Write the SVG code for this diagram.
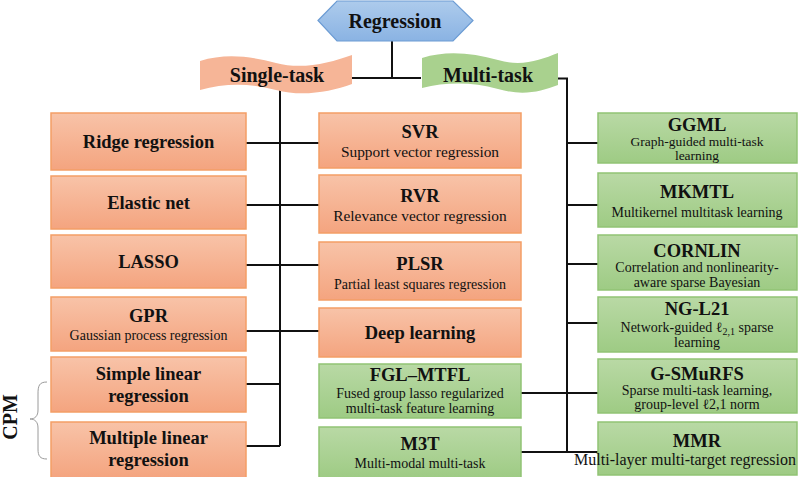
<svg xmlns="http://www.w3.org/2000/svg" width="800" height="477" viewBox="0 0 800 477">
<defs>
<linearGradient id="gOr" x1="0" y1="0" x2="0" y2="1"><stop offset="0" stop-color="#F8C3A8"/><stop offset="1" stop-color="#F4A47F"/></linearGradient>
<linearGradient id="gGr" x1="0" y1="0" x2="0" y2="1"><stop offset="0" stop-color="#B9D9A5"/><stop offset="1" stop-color="#9ECB84"/></linearGradient>
<linearGradient id="gBl" x1="0" y1="0" x2="0" y2="1"><stop offset="0" stop-color="#ADCBEC"/><stop offset="1" stop-color="#8AB3E3"/></linearGradient>
<style>
.or{fill:url(#gOr);stroke:#F49E66;stroke-width:1.5}
.gr{fill:url(#gGr);stroke:#91C374;stroke-width:1.5}
.t{font-family:"Liberation Serif","Times New Roman",serif;font-weight:bold;font-size:18.5px;fill:#111;text-anchor:middle}
.s{font-family:"Liberation Serif","Times New Roman",serif;font-size:14px;fill:#111;text-anchor:middle}
.s2{font-size:15.4px}
.h{font-family:"Liberation Serif","Times New Roman",serif;font-weight:bold;font-size:20px;fill:#111;text-anchor:middle}
.ln{stroke:#111;stroke-width:2;fill:none}
</style>
</defs>
<rect width="800" height="477" fill="#fff"/>

<g id="connectors" class="ln">
<path d="M392,41 V78 M352,78 H421 M558,78.5 H567 V452"/>
<path d="M280,90 V446"/>
<path d="M246,143 H319 M246,205 H319 M246,265 H319 M246,331 H319 M246,384 H280 M246,446 H280"/>
<path d="M567,143 H598 M567,205 H598 M567,264 H598 M567,323 H598 M521,393 H598 M521,452 H598"/>
</g>

<g id="regression">
<polygon points="318,20.5 337,1 453,1 473,20.5 453,41 337,41" fill="url(#gBl)" stroke="#6C9CD4" stroke-width="1.2"/>
<text class="h" x="395" y="28">Regression</text>
</g>
<g id="single-task">
<path d="M200,61 C225,53 250,56 276,63 C302,70 330,63 352,55 L352,84 C330,92 302,97 276,90 C250,83 225,83 200,90 Z" fill="#F6B597"/>
<text class="h" x="277" y="82">Single-task</text>
</g>
<g id="multi-task">
<path d="M422,58 C447,50 472,53 498,60 C522,67 540,60 558,53 L558,85 C540,92 522,96 498,89 C472,82 447,82 422,88 Z" fill="#A9D18E"/>
<text class="h" x="488" y="82">Multi-task</text>
</g>

<g id="ridge"><rect class="or" x="51" y="113" width="195" height="57"/><text class="t" x="148.5" y="148">Ridge regression</text></g>
<g id="elastic"><rect class="or" x="51" y="176" width="195" height="53"/><text class="t" x="148.5" y="209">Elastic net</text></g>
<g id="lasso"><rect class="or" x="51" y="235" width="195" height="53"/><text class="t" x="148.5" y="268">LASSO</text></g>
<g id="gpr"><rect class="or" x="51" y="297" width="195" height="54"/><text class="t" x="148.5" y="322">GPR</text><text class="s" x="148.5" y="340">Gaussian process regression</text></g>
<g id="simple"><rect class="or" x="51" y="357" width="195" height="55"/><text class="t" x="148.5" y="380">Simple linear</text><text class="t" x="148.5" y="402">regression</text></g>
<g id="multiple"><rect class="or" x="51" y="422" width="195" height="56"/><text class="t" x="148.5" y="444">Multiple linear</text><text class="t" x="148.5" y="466">regression</text></g>

<g id="svr"><rect class="or" x="319" y="113" width="202" height="55"/><text class="t" x="420" y="138">SVR</text><text class="s s2" x="420" y="157">Support vector regression</text></g>
<g id="rvr"><rect class="or" x="319" y="175" width="202" height="58"/><text class="t" x="420" y="202">RVR</text><text class="s s2" x="420" y="221">Relevance vector regression</text></g>
<g id="plsr"><rect class="or" x="319" y="242" width="202" height="58"/><text class="t" x="420" y="270">PLSR</text><text class="s" x="420" y="289">Partial least squares regression</text></g>
<g id="deep"><rect class="or" x="319" y="308" width="202" height="49"/><text class="t" x="420" y="339">Deep learning</text></g>
<g id="fgl"><rect class="gr" x="319" y="364" width="202" height="54"/><text class="t" x="420" y="381">FGL–MTFL</text><text class="s" x="420" y="398">Fused group lasso regularized</text><text class="s" x="420" y="413">multi-task feature learning</text></g>
<g id="m3t"><rect class="gr" x="319" y="427" width="202" height="51"/><text class="t" x="420" y="450">M3T</text><text class="s" x="420" y="468">Multi-modal multi-task</text></g>

<g id="ggml"><rect class="gr" x="598" y="113" width="199" height="50"/><text class="t" x="697" y="131">GGML</text><text class="s" x="697" y="146" style="font-size:13.5px">Graph-guided multi-task</text><text class="s" x="697" y="160" style="font-size:13.5px">learning</text></g>
<g id="mkmtl"><rect class="gr" x="598" y="173" width="199" height="54"/><text class="t" x="697" y="198">MKMTL</text><text class="s" x="697" y="217">Multikernel multitask learning</text></g>
<g id="cornlin"><rect class="gr" x="598" y="235" width="199" height="55"/><text class="t" x="697" y="257">CORNLIN</text><text class="s" x="697" y="272">Correlation and nonlinearity-</text><text class="s" x="697" y="287">aware sparse Bayesian</text></g>
<g id="ngl21"><rect class="gr" x="598" y="297" width="199" height="55"/><text class="t" x="697" y="315">NG-L21</text><text class="s" x="697" y="332">Network-guided ℓ<tspan font-size="10" dy="3">2,1</tspan><tspan dy="-3"> sparse</tspan></text><text class="s" x="697" y="347">learning</text></g>
<g id="gsmurfs"><rect class="gr" x="598" y="359" width="199" height="54"/><text class="t" x="697" y="380">G-SMuRFS</text><text class="s" x="697" y="395">Sparse multi-task learning,</text><text class="s" x="697" y="409">group-level ℓ2,1 norm</text></g>
<g id="mmr"><rect class="gr" x="598" y="422" width="199" height="53"/><text class="t" x="697" y="447">MMR</text><text class="s" x="685" y="465" style="font-size:16px">Multi-layer multi-target regression</text></g>

<g id="cpm">
<path d="M47,382 C39,382 38,386 38,394 L38,410 C38,416 35,419 30,419 C35,419 38,422 38,428 L38,449 C38,456 40,459 47,459" fill="none" stroke="#9A9A9A" stroke-width="1"/>
<text class="h" transform="translate(16.5,417) rotate(-90)">CPM</text>
</g>
</svg>
